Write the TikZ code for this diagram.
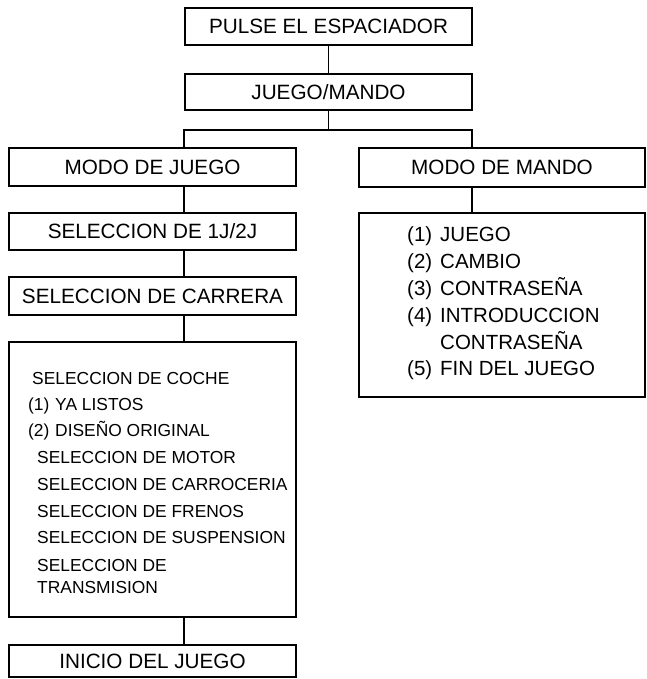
\documentclass[tikz,border=0pt]{standalone}
\usepackage{fontspec}
\setmainfont{Liberation Sans}
\begin{document}
\begin{tikzpicture}[x=1pt,y=-1pt,
  hbox/.style={draw=black, line width=1.4pt, rectangle, inner sep=0pt,
    font=\fontsize{20.7}{24}\selectfont, text height=14.8pt, text depth=0pt},
  listbox/.style={draw=black, line width=1.4pt, rectangle, inner sep=0pt},
  conn/.style={draw=black, line width=1.4pt},
  ltxt/.style={anchor=base west, inner sep=0pt, font=\fontsize{17.4}{20}\selectfont},
  rtxt/.style={anchor=base west, inner sep=0pt, font=\fontsize{20.5}{24}\selectfont}]
\useasboundingbox (0,0) rectangle (646,679);

% top
\node[hbox, minimum width=287pt, minimum height=37pt] (pulse) at (328.5,26.5) {PULSE EL ESPACIADOR};
\node[hbox, minimum width=287pt, minimum height=36pt] (jm) at (328.5,92) {JUEGO/MANDO};

% left column
\node[hbox, minimum width=287pt, minimum height=38pt] (mj) at (152.5,167) {MODO DE JUEGO};
\node[hbox, minimum width=287pt, minimum height=37pt] (s12) at (152.5,231.5) {SELECCION DE 1J/2J};
\node[hbox, minimum width=287pt, minimum height=38pt] (carr) at (152.5,296) {SELECCION DE CARRERA};
\node[listbox, minimum width=287pt, minimum height=275pt] (coche) at (152.5,479.5) {};
\node[hbox, minimum width=287pt, minimum height=32pt] (inicio) at (152.5,661) {INICIO DEL JUEGO};

% right column
\node[hbox, minimum width=286pt, minimum height=39pt] (mm) at (502,167.5) {MODO DE MANDO};
\node[listbox, minimum width=286pt, minimum height=184pt] (mlist) at (502,305) {};

% spine coordinates
\coordinate (split) at (328.5,130);
\coordinate (lc) at (184,0);
\coordinate (rc) at (472,0);

% connectors
\draw[conn] (pulse) -- (jm);
\draw[conn] (jm.south) -- (split);
\draw[conn] (mj.north -| lc) -- (lc |- split) -- (rc |- split) -- (mm.north -| rc);
\draw[conn] (mj.south -| lc) -- (s12.north -| lc);
\draw[conn] (s12.south -| lc) -- (carr.north -| lc);
\draw[conn] (carr.south -| lc) -- (coche.north -| lc);
\draw[conn] (coche.south -| lc) -- (inicio.north -| lc);
\draw[conn] (mm.south -| rc) -- (mlist.north -| rc);

% left list text
\node[ltxt] (c1) at (32,384) {SELECCION DE COCHE};
\node[ltxt] (c2n) at (28,410) {(1)};
\node[ltxt] (c2) at (55,410) {YA LISTOS};
\node[ltxt] (c3n) at (28,436) {(2)};
\node[ltxt] (c3) at (55,436) {DISEÑO ORIGINAL};
\node[ltxt] (c4) at (37,463) {SELECCION DE MOTOR};
\node[ltxt] (c5) at (37,490) {SELECCION DE CARROCERIA};
\node[ltxt] (c6) at (37,517) {SELECCION DE FRENOS};
\node[ltxt] (c7) at (37,543) {SELECCION DE SUSPENSION};
\node[ltxt] (c8) at (37,571) {SELECCION DE};
\node[ltxt] (c9) at (37,593) {TRANSMISION};

% right list text
\node[rtxt] (m1n) at (407,241) {(1)};
\node[rtxt] (m1) at (440,241) {JUEGO};
\node[rtxt] (m2n) at (407,268) {(2)};
\node[rtxt] (m2) at (440,268) {CAMBIO};
\node[rtxt] (m3n) at (407,295) {(3)};
\node[rtxt] (m3) at (440,295) {CONTRASEÑA};
\node[rtxt] (m4n) at (407,322) {(4)};
\node[rtxt] (m4) at (440,322) {INTRODUCCION};
\node[rtxt] (m4b) at (440,349) {CONTRASEÑA};
\node[rtxt] (m5n) at (407,375) {(5)};
\node[rtxt] (m5) at (440,375) {FIN DEL JUEGO};
\end{tikzpicture}
\end{document}
